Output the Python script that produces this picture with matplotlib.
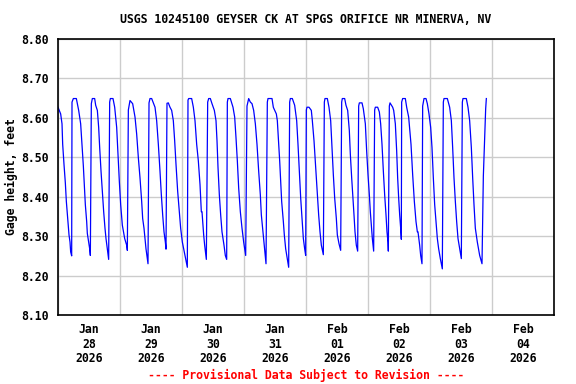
#!/usr/bin/env python3
"""USGS gage height plot for Geyser Ck at Spgs Orifice nr Minerva, NV."""

import matplotlib

matplotlib.use("Agg")
import matplotlib.pyplot as plt
from matplotlib.ticker import FixedLocator, NullFormatter

TITLE = "USGS 10245100 GEYSER CK AT SPGS ORIFICE NR MINERVA, NV"
FOOTER = "---- Provisional Data Subject to Revision ----"
DAY_LABELS = [
    "Jan\n28\n2026", "Jan\n29\n2026", "Jan\n30\n2026", "Jan\n31\n2026",
    "Feb\n01\n2026", "Feb\n02\n2026", "Feb\n03\n2026", "Feb\n04\n2026",
]
Y_TICKS = [8.10, 8.20, 8.30, 8.40, 8.50, 8.60, 8.70, 8.80]

# hours since Jan 28 00:00, one eruption cycle per line
hours = [
    0.00, 1.03, 1.55, 1.81, 2.32, 2.84, 3.23, 3.87, 4.26, 4.65, 4.90, 5.29,
    5.42, 5.94, 7.10, 7.48, 8.00, 8.77, 9.29, 9.81, 10.19, 10.58, 11.10, 11.35, 11.87, 12.26, 12.52,
    12.90, 13.29, 14.19, 14.58, 15.23, 15.74, 16.13, 16.65, 17.16, 17.68, 18.19, 18.58, 19.10, 19.61,
    20.00, 20.26, 21.29, 21.94, 22.71, 23.23, 23.74, 24.26, 24.90, 25.81, 26.58, 26.84,
    27.23, 27.87, 28.90, 29.81, 30.45, 31.10, 31.74, 32.39, 32.77, 33.29, 33.68, 34.06, 34.58, 34.84,
    35.23, 35.61, 36.26, 36.90, 37.55, 38.19, 38.84, 39.48, 40.00, 40.52, 41.03, 41.55, 41.81,
    42.19, 42.71, 43.35, 44.00, 44.64, 45.16, 45.68, 46.32, 46.97, 47.48, 48.13, 49.16, 50.06,
    50.32, 50.58, 51.74, 52.39, 53.03, 53.68, 54.32, 54.97, 55.48, 55.74, 56.39, 56.77, 57.42,
    57.94, 58.32, 58.97, 59.61, 60.52, 61.16, 61.55, 61.94, 62.45, 62.97, 63.48, 64.26, 64.77, 65.29,
    65.55, 65.81, 66.71, 67.74, 68.39, 68.90, 69.42, 69.94, 70.58, 71.23, 71.87, 72.65,
    73.16, 73.81, 74.45, 75.10, 75.74, 76.39, 77.03, 77.68, 78.32, 78.71, 79.35, 80.00, 80.52,
    81.03, 81.29, 82.84, 83.35, 83.61, 84.52, 84.90, 85.29, 85.81, 86.19, 86.58, 87.23, 87.61, 88.13, 88.77, 89.29,
    89.68, 89.94, 90.71, 91.61, 92.39, 92.90, 93.42, 93.94, 94.45, 94.97, 95.48, 95.87,
    96.13, 96.39, 97.16, 98.06, 98.45, 99.10, 99.74, 100.39, 100.90, 101.42, 101.94, 102.71,
    103.10, 103.35, 104.26, 104.90, 105.55, 106.06, 106.58, 107.10, 107.74, 108.13, 108.77, 109.42,
    109.81, 110.06, 110.97, 111.48, 112.13, 112.77, 113.16, 113.68, 114.19, 114.58, 114.97, 115.48, 116.00,
    116.39, 116.65, 117.68, 118.19, 118.97, 119.48, 120.00, 120.52, 120.90, 121.29, 121.68, 122.19,
    122.58, 122.84, 123.74, 124.39, 124.90, 125.42, 125.94, 126.45, 126.97, 127.35, 127.74, 127.87,
    128.26, 128.52, 129.55, 129.94, 130.58, 131.10, 131.48, 131.87, 132.26, 132.65, 132.90,
    133.03, 133.42, 134.45, 134.97, 135.74, 136.65, 137.29, 137.94, 138.58, 139.10, 139.35, 140.00, 140.39, 140.90,
    141.16, 141.68, 142.45, 142.97, 143.61, 144.26, 144.77, 145.29, 145.81, 146.32, 146.84, 147.35, 148.00, 148.77,
    149.16, 149.42, 150.71, 151.61, 152.26, 152.77, 153.29, 153.81, 154.32, 154.84, 155.48, 156.13,
    156.52, 156.77, 158.06, 158.71, 159.35, 160.00, 160.52, 161.03, 161.55, 162.32, 163.23, 164.13,
    164.65, 165.55, 165.81,
]
gage_ft = [
    8.627, 8.610, 8.585, 8.533, 8.482, 8.435, 8.388, 8.337, 8.303, 8.285, 8.260, 8.250,
    8.640, 8.649, 8.649, 8.636, 8.619, 8.585, 8.533, 8.478, 8.431, 8.380, 8.337, 8.307, 8.285, 8.268, 8.251,
    8.636, 8.649, 8.649, 8.632, 8.619, 8.576, 8.525, 8.465, 8.414, 8.362, 8.320, 8.294, 8.268, 8.241,
    8.640, 8.649, 8.649, 8.627, 8.576, 8.508, 8.439, 8.380, 8.328, 8.294, 8.277, 8.264,
    8.620, 8.644, 8.636, 8.602, 8.559, 8.499, 8.448, 8.388, 8.345, 8.320, 8.294, 8.268, 8.243, 8.230,
    8.638, 8.649, 8.649, 8.638, 8.627, 8.593, 8.533, 8.465, 8.405, 8.354, 8.311, 8.285, 8.267,
    8.637, 8.638, 8.627, 8.619, 8.593, 8.542, 8.482, 8.414, 8.362, 8.320, 8.285, 8.251, 8.221,
    8.645, 8.649, 8.649, 8.627, 8.593, 8.533, 8.491, 8.431, 8.362, 8.362, 8.303, 8.277, 8.241,
    8.640, 8.649, 8.649, 8.636, 8.619, 8.593, 8.542, 8.474, 8.405, 8.354, 8.311, 8.277, 8.251, 8.241,
    8.640, 8.649, 8.649, 8.627, 8.602, 8.550, 8.491, 8.422, 8.362, 8.320, 8.285, 8.251,
    8.630, 8.649, 8.640, 8.636, 8.619, 8.585, 8.533, 8.465, 8.405, 8.354, 8.311, 8.268, 8.230,
    8.640, 8.649, 8.649, 8.627, 8.623, 8.610, 8.593, 8.550, 8.491, 8.439, 8.388, 8.337, 8.303, 8.268, 8.243, 8.221,
    8.640, 8.649, 8.649, 8.632, 8.593, 8.533, 8.465, 8.397, 8.345, 8.294, 8.268, 8.251,
    8.620, 8.627, 8.627, 8.619, 8.593, 8.542, 8.474, 8.405, 8.354, 8.311, 8.277, 8.253,
    8.640, 8.649, 8.649, 8.627, 8.593, 8.525, 8.456, 8.397, 8.345, 8.303, 8.281, 8.264,
    8.640, 8.649, 8.649, 8.632, 8.619, 8.568, 8.508, 8.448, 8.397, 8.354, 8.311, 8.277, 8.262,
    8.630, 8.638, 8.638, 8.623, 8.585, 8.516, 8.456, 8.405, 8.362, 8.328, 8.294, 8.262,
    8.620, 8.627, 8.627, 8.615, 8.585, 8.533, 8.465, 8.405, 8.354, 8.311, 8.285, 8.262,
    8.630, 8.638, 8.627, 8.619, 8.585, 8.516, 8.448, 8.397, 8.354, 8.320, 8.292,
    8.640, 8.649, 8.649, 8.627, 8.602, 8.533, 8.456, 8.388, 8.337, 8.311, 8.311, 8.277, 8.251, 8.230,
    8.630, 8.649, 8.649, 8.636, 8.610, 8.576, 8.525, 8.448, 8.380, 8.337, 8.294, 8.268, 8.243, 8.217,
    8.640, 8.649, 8.649, 8.627, 8.593, 8.525, 8.448, 8.388, 8.337, 8.294, 8.268, 8.243,
    8.640, 8.649, 8.649, 8.627, 8.593, 8.525, 8.448, 8.380, 8.320, 8.285, 8.251, 8.230,
    8.452, 8.623, 8.649,
]

plt.rcParams["font.family"] = ["DejaVu Sans Mono"]
plt.rcParams["font.weight"] = "bold"
plt.rcParams["font.size"] = 8.3

fig = plt.figure(figsize=(5.76, 3.84), dpi=100)
ax = fig.add_axes([0.1007, 0.1797, 0.8611, 0.7187])

ax.plot(hours, gage_ft, color="#0000ff", linewidth=0.9)

ax.set_xlim(0, 24 * len(DAY_LABELS))
ax.set_ylim(Y_TICKS[0], Y_TICKS[-1])
ax.set_yticks(Y_TICKS)
ax.set_yticklabels([f"{v:.2f}" for v in Y_TICKS], fontweight="bold")

ax.xaxis.set_major_locator(FixedLocator([24 * i for i in range(len(DAY_LABELS) + 1)]))
ax.xaxis.set_major_formatter(NullFormatter())
ax.xaxis.set_minor_locator(FixedLocator([24 * i + 12 for i in range(len(DAY_LABELS))]))
ax.set_xticklabels(DAY_LABELS, minor=True, fontweight="bold", linespacing=1.15)
ax.tick_params(axis="x", which="both", length=0, pad=6)
ax.tick_params(axis="y", length=0, pad=7)

ax.grid(True, which="major", color="#cccccc", linewidth=1.0)
ax.set_axisbelow(True)
for spine in ax.spines.values():
    spine.set_color("black")
    spine.set_linewidth(1.2)

ax.set_ylabel("Gage height, feet", fontweight="bold", labelpad=2)
fig.text(0.531, 0.950, TITLE, ha="center", va="center", fontweight="bold")
fig.text(0.531, 0.023, FOOTER, ha="center", va="center", color="#ff0000", fontweight="bold")

fig.savefig("out.png", dpi=100)
